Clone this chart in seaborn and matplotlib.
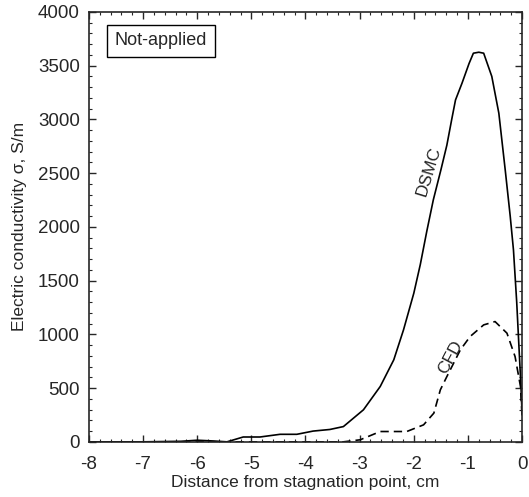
import matplotlib
matplotlib.use("Agg")
import matplotlib.pyplot as plt
from matplotlib.ticker import MultipleLocator
import seaborn as sns
import pandas as pd

sns.set_style("ticks")
plt.rcParams['font.family'] = ['Liberation Sans', 'DejaVu Sans']
plt.rcParams['axes.unicode_minus'] = False

dsmc_x = [-8.0, -7.0, -6.3, -6.0, -5.7, -5.45, -5.15, -4.84, -4.47, -4.16, -3.86, -3.55,
          -3.30, -2.93, -2.62, -2.37, -2.19, -2.00, -1.88, -1.76, -1.64, -1.50, -1.39,
          -1.30, -1.23, -1.11, -0.98, -0.90, -0.80, -0.71, -0.56, -0.43, -0.31, -0.22,
          -0.16, -0.10, -0.05, -0.02, 0.0]
dsmc_y = [0, 0, 5, 15, 8, 0, 45, 45, 70, 70, 100, 115,
          142, 298, 515, 763, 1042, 1383, 1650, 1960, 2251, 2530, 2760,
          3000, 3181, 3337, 3520, 3616, 3625, 3616, 3400, 3058, 2520, 2100,
          1786, 1300, 800, 500, 250]

cfd_x = [-8.0, -5.0, -3.3, -2.99, -2.62, -2.13, -1.82, -1.63, -1.51, -1.39, -1.14,
         -0.96, -0.71, -0.50, -0.28, -0.13, -0.03, 0.0]
cfd_y = [0, 0, 0, 19, 96, 96, 158, 267, 484, 607, 856,
         980, 1088, 1119, 1011, 793, 514, 220]

fig = plt.figure(figsize=(5.29, 4.97), dpi=100)
ax = fig.add_axes([0.168, 0.111, 0.819, 0.865])

df_d = pd.DataFrame({"x": dsmc_x, "y": dsmc_y})
df_c = pd.DataFrame({"x": cfd_x, "y": cfd_y})
sns.lineplot(data=df_d, x="x", y="y", ax=ax, color="black", lw=1.2, sort=False)
sns.lineplot(data=df_c, x="x", y="y", ax=ax, color="black", lw=1.2, sort=False,
             linestyle=(0, (5, 3)))

ax.set_xlim(-8, 0)
ax.set_ylim(0, 4000)
ax.xaxis.set_major_locator(MultipleLocator(1))
ax.xaxis.set_minor_locator(MultipleLocator(0.2))
ax.yaxis.set_major_locator(MultipleLocator(500))
ax.yaxis.set_minor_locator(MultipleLocator(100))
ax.tick_params(which="both", direction="in", top=True, right=True, labelsize=13.5)
ax.tick_params(axis="x", pad=10)
ax.tick_params(axis="y", pad=6.5)
ax.tick_params(which="major", length=5, width=1)
ax.tick_params(which="minor", length=2.5, width=0.8)
for s in ax.spines.values():
    s.set_linewidth(1.2)

ax.set_xlabel("Distance from stagnation point, cm", fontsize=12.5, labelpad=2)
ax.set_ylabel("Electric conductivity σ, S/m", fontsize=12.5, labelpad=8)

ax.text(-7.52, 3730, "Not-applied", fontsize=13, va="center", ha="left",
        bbox=dict(boxstyle="square,pad=0.42", fc="white", ec="black", lw=1))
ax.text(-1.72, 2520, "DSMC", fontsize=12.5, rotation=73, ha="center", va="center")
ax.text(-1.33, 790, "CFD", fontsize=12.5, rotation=62, ha="center", va="center")

fig.savefig("out.png", dpi=100)
